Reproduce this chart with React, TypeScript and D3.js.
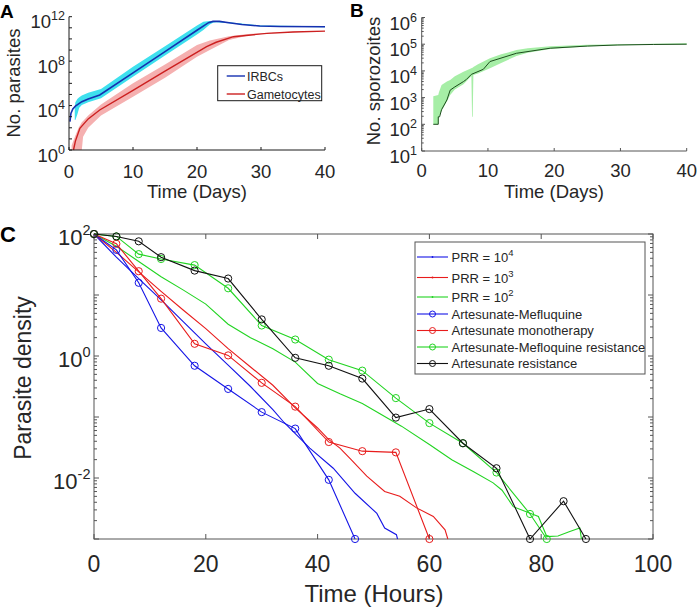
import React from 'react';
import * as d3 from 'd3';

const FONT = '"Liberation Sans", Arial, Helvetica, sans-serif';
const TXT = '#262626';

// ---------------- Panel A (log10 values) ----------------
const aIrbcTime = [0.15, 0.3, 0.6, 1, 2, 3, 4.8, 10, 15, 20, 21.8, 22.5, 23.5, 25, 27, 29.8, 33, 40];
const aIrbcLog = [2.55, 3.3, 3.7, 3.95, 4.35, 4.6, 4.95, 6.95, 8.85, 10.78, 11.46, 11.58, 11.58, 11.45, 11.3, 11.16, 11.12, 11.1];
const aIrbcBandTime = [0.9, 1.0, 1.3, 1.6, 2, 3, 5, 10, 15, 20, 21, 22, 22.5, 23, 25, 30, 40];
const aIrbcBandLo = [2.7, 2.7, 3.2, 3.8, 4.05, 4.3, 4.65, 6.6, 8.5, 10.4, 10.8, 11.3, 11.45, 11.5, 11.4, 11.12, 11.06];
const aIrbcBandHi = [3.9, 4.3, 4.6, 4.75, 4.9, 5.15, 5.5, 7.5, 9.35, 11.2, 11.55, 11.62, 11.62, 11.6, 11.5, 11.2, 11.14];
const aGamTime = [0.7, 1, 1.7, 3, 4.8, 10, 15, 21.5, 23, 25.7, 30.9, 35, 40];
const aGamLog = [0, 0.8, 1.95, 2.8, 3.6, 5.37, 7.1, 9.3, 9.7, 10.2, 10.5, 10.62, 10.7];
const aGamBandTime = [0.4, 1, 1.5, 2, 2.2, 3, 5, 10, 15, 20, 22, 25, 28, 30, 35, 40];
const aGamBandLo = [0, 0, 0, 0, 1.2, 2.0, 3.1, 4.8, 6.5, 8.4, 9.0, 9.9, 10.3, 10.45, 10.6, 10.68];
const aGamBandHi = [0.4, 1.3, 2.0, 2.5, 2.6, 3.1, 4.1, 6.0, 7.7, 9.45, 9.85, 10.25, 10.45, 10.52, 10.65, 10.72];
const aXTicks = [0, 10, 20, 30, 40];
const aYTickExps = [0, 4, 8, 12];
const aLegend = ['IRBCs', 'Gametocytes'];

// ---------------- Panel B ----------------
const bTime = [1.75, 2.5, 2.5, 2.7, 3.0, 3.8, 4.3, 5.0, 6.3, 6.75, 7.5, 9.3, 10.3, 14.3, 19.4, 25, 29.5, 35, 40];
const bLog = [2.0, 2.0, 2.28, 2.28, 2.55, 2.91, 3.28, 3.4, 3.6, 3.68, 3.87, 4.06, 4.35, 4.66, 4.85, 4.93, 4.97, 4.99, 5.0];
const bBandTime = [1.75, 2.5, 2.6, 3.0, 3.8, 4.3, 5.0, 6.3, 7.5, 7.6, 7.7, 7.8, 8.5, 10.3, 12, 14.3, 16, 19.4, 25, 30, 40];
const bBandLo = [2.0, 2.0, 2.28, 2.5, 2.85, 3.1, 3.3, 3.5, 3.8, 2.28, 2.28, 3.85, 3.9, 4.1, 4.3, 4.56, 4.68, 4.82, 4.91, 4.96, 4.99];
const bBandHi = [3.05, 3.1, 3.2, 3.47, 3.6, 3.66, 3.8, 3.97, 4.1, 4.12, 4.12, 4.15, 4.25, 4.47, 4.62, 4.78, 4.85, 4.92, 4.98, 5.0, 5.04];
const bXTicks = [0, 10, 20, 30, 40];
const bYTickExps = [1, 2, 3, 4, 5, 6];

// ---------------- Panel C ----------------
const cPrr4Time = [0, 4, 8, 12, 16, 20, 24, 28, 32, 34, 38.6, 42.8, 46.7, 50.6, 52, 54.1, 54.3];
const cPrr4Log = [2.0, 1.62, 1.27, 0.92, 0.56, 0.2, -0.15, -0.5, -0.88, -1.09, -1.51, -1.84, -2.25, -2.58, -2.82, -2.93, -3.0];
const cPrr3Time = [0, 4, 8, 12, 16, 20, 24, 28, 32, 36, 40, 42, 44, 46, 48.8, 52, 54.7, 57.7, 60.7, 62.8, 63.3];
const cPrr3Log = [2.0, 1.7, 1.38, 1.06, 0.75, 0.45, 0.12, -0.18, -0.48, -0.85, -1.18, -1.37, -1.51, -1.7, -1.97, -2.22, -2.3, -2.49, -2.63, -2.85, -3.0];
const cPrr2Time = [0, 4, 8, 12, 16, 20, 24, 28, 32, 36, 40, 44, 48, 51, 55, 60, 64, 68, 71.4, 73, 75, 78.6, 79.5, 81, 83, 85, 86.9, 87.2];
const cPrr2Log = [2.0, 1.8, 1.55, 1.3, 1.08, 0.85, 0.52, 0.3, 0.12, -0.1, -0.45, -0.62, -0.78, -0.94, -1.15, -1.45, -1.7, -1.9, -2.08, -2.2, -2.47, -2.6, -2.63, -2.96, -2.95, -2.88, -2.82, -3.0];
const cAmTime = [0, 4, 8, 12, 18, 24, 30, 36, 42, 46.7];
const cAmLog = [2.0, 1.74, 1.2, 0.46, -0.16, -0.54, -0.92, -1.19, -2.03, -3.0];
const cMonoTime = [0, 4, 8, 12, 18, 24, 30, 36, 42, 48, 54, 60];
const cMonoLog = [2.0, 1.84, 1.39, 0.94, 0.2, 0.01, -0.44, -0.83, -1.41, -1.56, -1.58, -3.0];
const cAmResTime = [0, 4, 8, 12, 18, 24, 30, 36, 42, 48, 54, 60, 66, 72, 78, 81];
const cAmResLog = [2.0, 1.96, 1.67, 1.59, 1.49, 1.11, 0.5, 0.27, -0.06, -0.24, -0.69, -1.1, -1.43, -1.91, -2.59, -3.0];
const cResTime = [0, 4, 8, 12, 18, 24, 30, 36, 42, 48, 54, 60, 66, 72, 78, 84, 88];
const cResLog = [2.0, 1.96, 1.88, 1.62, 1.4, 1.27, 0.6, -0.03, -0.16, -0.37, -1.01, -0.87, -1.43, -1.84, -3.0, -2.38, -3.0];
const cXTicks = [0, 20, 40, 60, 80, 100];
const cYTickExps = [-2, 0, 2];
const cLegendLabels = ['PRR = 10', 'PRR = 10', 'PRR = 10', 'Artesunate-Mefluquine', 'Artesunate monotherapy', 'Artesunate-Mefloquine resistance', 'Artesunate resistance'];
const cLegendSup = ['4', '3', '2', '', '', '', ''];

const BLUE = '#1414e6';
const RED = '#e81c1c';
const GREEN = '#22d422';
const BLACK = '#111111';

const zip = (a: number[], b: number[]) => a.map((v, i) => [v, b[i]] as [number, number]);
const zip3 = (a: number[], b: number[], c: number[]) => a.map((v, i) => [v, b[i], c[i]] as [number, number, number]);

function SupLabel({ x, y, base, sup, size, supSize, supDy, anchor = 'end' }: any) {
  return (
    <text x={x} y={y} textAnchor={anchor} fontFamily={FONT} fontSize={size} fill={TXT}>
      {base}
      <tspan dy={-supDy} fontSize={supSize}>{sup}</tspan>
    </text>
  );
}

function minorLogs(lo: number, hi: number) {
  const out: number[] = [];
  for (let k = lo; k < hi; k++) for (let m = 2; m <= 9; m++) out.push(m * Math.pow(10, k));
  return out;
}

export default function App() {
  // Panel A scales
  const ax = d3.scaleLinear().domain([0, 40]).range([69, 325]);
  const ay = d3.scaleLog().domain([1, 1e12]).range([150, 16.7]);
  // Panel B scales
  const bx = d3.scaleLinear().domain([0, 40]).range([421.7, 686.7]);
  const by = d3.scaleLog().domain([10, 1e6]).range([151, 17.5]);
  // Panel C scales
  const cx = d3.scaleLinear().domain([0, 100]).range([94, 653]);
  const cy = d3.scaleLog().domain([1e-3, 1e2]).range([539, 234]);

  const lineA = d3.line<[number, number]>().x(d => ax(d[0])).y(d => ay(Math.pow(10, d[1])));
  const areaA = d3.area<[number, number, number]>().x(d => ax(d[0])).y0(d => ay(Math.pow(10, d[1]))).y1(d => ay(Math.pow(10, d[2])));
  const lineB = d3.line<[number, number]>().x(d => bx(d[0])).y(d => by(Math.pow(10, d[1])));
  const areaB = d3.area<[number, number, number]>().x(d => bx(d[0])).y0(d => by(Math.pow(10, d[1]))).y1(d => by(Math.pow(10, d[2])));
  const lineC = d3.line<[number, number]>().x(d => cx(d[0])).y(d => cy(Math.pow(10, d[1])));

  const cSmooth = [
    { t: cPrr4Time, v: cPrr4Log, c: BLUE },
    { t: cPrr3Time, v: cPrr3Log, c: RED },
    { t: cPrr2Time, v: cPrr2Log, c: GREEN },
  ];
  const cMarked = [
    { t: cAmTime, v: cAmLog, c: BLUE },
    { t: cMonoTime, v: cMonoLog, c: RED },
    { t: cAmResTime, v: cAmResLog, c: GREEN },
    { t: cResTime, v: cResLog, c: BLACK },
  ];
  const legendColors = [BLUE, RED, GREEN, BLUE, RED, GREEN, BLACK];
  const legendRowY = [257, 277.5, 297, 314, 330.5, 347, 363.5];

  const axA = '#1a1a1a';
  const axB = '#555555';
  const axC = '#555555';

  return (
    <svg width={697} height={610} style={{ position: 'absolute', left: 0, top: 0, background: '#fff' }}>
      <rect x={0} y={0} width={697} height={610} fill="#fff" />
      {/* ===== Panel A ===== */}
      <text x={0} y={18} fontFamily={FONT} fontWeight="bold" fontSize={19} fill="#000">A</text>
      <path d={areaA(zip3(aIrbcBandTime, aIrbcBandLo, aIrbcBandHi)) || ''} fill="#3ee0ee" />
      <path d={areaA(zip3(aGamBandTime, aGamBandLo, aGamBandHi)) || ''} fill="#f5b0b0" />
      <path d={lineA(zip(aIrbcTime, aIrbcLog)) || ''} fill="none" stroke="#1530b0" strokeWidth={1.6} />
      <path d={lineA(zip(aGamTime, aGamLog)) || ''} fill="none" stroke="#cc2020" strokeWidth={1.4} />
      <line x1={69} x2={69} y1={16.7} y2={150} stroke={axA} strokeWidth={1} />
      <line x1={69} x2={325} y1={150} y2={150} stroke={axA} strokeWidth={1} />
      {d3.range(0, 13).map(e => (
        <line key={'ayt' + e} x1={69} x2={72} y1={ay(Math.pow(10, e))} y2={ay(Math.pow(10, e))} stroke={axA} />
      ))}
      {aXTicks.map(t => (
        <g key={'axt' + t}>
          <line x1={ax(t)} x2={ax(t)} y1={150} y2={147} stroke={axA} />
          <text x={ax(t)} y={178} textAnchor="middle" fontFamily={FONT} fontSize={18.5} fill={TXT}>{t}</text>
        </g>
      ))}
      {aYTickExps.map(e => (
        <SupLabel key={'ayl' + e} x={65} y={ay(Math.pow(10, e)) + 11.5} base="10" sup={String(e)} size={18.5} supSize={12.5} supDy={8} />
      ))}
      <text x={197} y={198} textAnchor="middle" fontFamily={FONT} fontSize={18.5} fill={TXT}>Time (Days)</text>
      <text transform="translate(20,83) rotate(-90)" textAnchor="middle" fontFamily={FONT} fontSize={18.5} fill={TXT}>No. parasites</text>
      <rect x={217.7} y={65.7} width={104} height={35} fill="#fff" stroke="#1a1a1a" strokeWidth={1} />
      {aLegend.map((l, i) => (
        <g key={'al' + i}>
          <line x1={226.7} x2={245} y1={76 + i * 18} y2={76 + i * 18} stroke={i === 0 ? '#1530b0' : '#cc2020'} strokeWidth={1.4} />
          <text x={247} y={80.5 + i * 18} fontFamily={FONT} fontSize={12.5} fill={TXT}>{l}</text>
        </g>
      ))}

      {/* ===== Panel B ===== */}
      <text x={350} y={17} fontFamily={FONT} fontWeight="bold" fontSize={19} fill="#000">B</text>
      <path d={areaB(zip3(bBandTime, bBandLo, bBandHi)) || ''} fill="#a6eea6" />
      <path d={lineB(zip(bTime, bLog)) || ''} fill="none" stroke="#1d4d1d" strokeWidth={1} />
      <line x1={421.7} x2={421.7} y1={17.5} y2={151} stroke={axB} />
      <line x1={421.7} x2={686.7} y1={151} y2={151} stroke={axB} />
      {bYTickExps.map(e => (
        <g key={'byt' + e}>
          <line x1={421.7} x2={425} y1={by(Math.pow(10, e))} y2={by(Math.pow(10, e))} stroke={axB} />
          <SupLabel x={417} y={by(Math.pow(10, e)) + 12} base="10" sup={String(e)} size={18.5} supSize={12.5} supDy={8} />
        </g>
      ))}
      {minorLogs(1, 6).map((v, i) => (
        <line key={'bym' + i} x1={421.7} x2={423.7} y1={by(v)} y2={by(v)} stroke={axB} />
      ))}
      {bXTicks.map(t => (
        <g key={'bxt' + t}>
          <line x1={bx(t)} x2={bx(t)} y1={151} y2={148} stroke={axB} />
          <text x={bx(t)} y={177} textAnchor="middle" fontFamily={FONT} fontSize={18.5} fill={TXT}>{t}</text>
        </g>
      ))}
      <text x={554} y={198} textAnchor="middle" fontFamily={FONT} fontSize={18.5} fill={TXT}>Time (Days)</text>
      <text transform="translate(380,81) rotate(-90)" textAnchor="middle" fontFamily={FONT} fontSize={18.5} fill={TXT}>No. sporozoites</text>

      {/* ===== Panel C ===== */}
      <text x={0} y={242} fontFamily={FONT} fontWeight="bold" fontSize={22} fill="#000">C</text>
      <rect x={94} y={234} width={559} height={305} fill="none" stroke={axC} strokeWidth={1} />
      {cXTicks.map(t => (
        <g key={'cxt' + t}>
          <line x1={cx(t)} x2={cx(t)} y1={539} y2={534} stroke={axC} />
          <line x1={cx(t)} x2={cx(t)} y1={234} y2={239} stroke={axC} />
          <text x={cx(t)} y={572} textAnchor="middle" fontFamily={FONT} fontSize={23} fill={TXT}>{t}</text>
        </g>
      ))}
      {d3.range(-3, 3).map(e => (
        <g key={'cyt' + e}>
          <line x1={94} x2={99} y1={cy(Math.pow(10, e))} y2={cy(Math.pow(10, e))} stroke={axC} />
          <line x1={653} x2={648} y1={cy(Math.pow(10, e))} y2={cy(Math.pow(10, e))} stroke={axC} />
        </g>
      ))}
      {minorLogs(-3, 2).map((v, i) => (
        <g key={'cym' + i}>
          <line x1={94} x2={97} y1={cy(v)} y2={cy(v)} stroke={axC} />
          <line x1={653} x2={650} y1={cy(v)} y2={cy(v)} stroke={axC} />
        </g>
      ))}
      {cYTickExps.map(e => (
        <SupLabel key={'cyl' + e} x={90.5} y={cy(Math.pow(10, e)) + 10.5} base="10" sup={String(e)} size={22} supSize={14.5} supDy={9.5} />
      ))}
      <text x={374} y={602} textAnchor="middle" fontFamily={FONT} fontSize={24} fill={TXT}>Time (Hours)</text>
      <text transform="translate(31,378) rotate(-90)" textAnchor="middle" fontFamily={FONT} fontSize={23} fill={TXT}>Parasite density</text>

      {cSmooth.map((s, i) => (
        <path key={'cs' + i} d={lineC(zip(s.t, s.v)) || ''} fill="none" stroke={s.c} strokeWidth={1.1} />
      ))}
      {cMarked.map((s, i) => (
        <g key={'cm' + i}>
          <path d={lineC(zip(s.t, s.v)) || ''} fill="none" stroke={s.c} strokeWidth={1.1} />
          {zip(s.t, s.v).map((d, j) => (
            <circle key={j} cx={cx(d[0])} cy={cy(Math.pow(10, d[1]))} r={3.6} fill="none" stroke={s.c} strokeWidth={1} />
          ))}
        </g>
      ))}

      <rect x={415} y={242} width={230} height={132} fill="#fff" stroke={axC} strokeWidth={1} />
      {cLegendLabels.map((l, i) => (
        <g key={'cl' + i}>
          <line x1={417} x2={448} y1={legendRowY[i]} y2={legendRowY[i]} stroke={legendColors[i]} strokeWidth={1.1} />
          {i >= 3 ? (
            <circle cx={432.5} cy={legendRowY[i]} r={3} fill="none" stroke={legendColors[i]} strokeWidth={1} />
          ) : (
            <circle cx={432.5} cy={legendRowY[i]} r={0.9} fill={legendColors[i]} />
          )}
          {cLegendSup[i] ? (
            <SupLabel x={451.5} y={legendRowY[i] + 5} base={l} sup={cLegendSup[i]} size={13} supSize={9.5} supDy={6} anchor="start" />
          ) : (
            <text x={451.5} y={legendRowY[i] + 4.6} fontFamily={FONT} fontSize={13} fill={TXT}>{l}</text>
          )}
        </g>
      ))}
    </svg>
  );
}
